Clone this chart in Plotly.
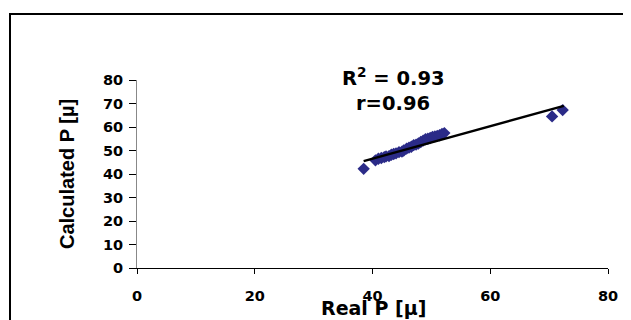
import plotly.graph_objects as go

real_p = [38.5, 40.5, 41.0, 41.5, 42.0, 42.3, 42.8, 43.2, 43.6, 44.0, 44.5, 45.0, 45.3,
          45.8, 46.2, 46.6, 47.0, 47.4, 47.8, 48.2, 48.6, 49.0, 49.4, 49.8, 50.2,
          50.6, 51.0, 51.4, 51.8, 52.2, 70.5, 72.3]
calc_p = [42.2, 45.8, 46.5, 46.8, 47.2, 47.5, 47.6, 48.2, 48.5, 48.8, 49.3, 49.5, 50.0,
          50.8, 51.2, 51.6, 52.3, 52.5, 53.0, 53.6, 54.2, 54.8, 55.0, 55.3, 55.8,
          56.0, 56.2, 56.5, 57.0, 57.4, 64.5, 67.2]
trend_x = [38.5, 72.5]
trend_y = [45.5, 69.0]
x_ticks = [0, 20, 40, 60, 80]
y_ticks = [0, 10, 20, 30, 40, 50, 60, 70, 80]

O = 8  # page body offset
W, H = 631 - O, 320 - O
L, R, T, B = 137 - O, 23, 80 - O, 52
pw, ph = W - L - R, H - T - B

def px(x):
    return (x - O - L) / pw

def py(y):
    return (T + ph - (y - O)) / ph

wide = "DejaVu Sans, Verdana, sans-serif"
arial = "Liberation Sans, Arial, sans-serif"

fig = go.Figure()
fig.add_trace(go.Scatter(x=real_p, y=calc_p, mode="markers",
                         marker=dict(symbol="diamond", size=9.5, color="#2B2B88"),
                         showlegend=False, cliponaxis=False))
fig.add_trace(go.Scatter(x=trend_x, y=trend_y, mode="lines",
                         line=dict(color="black", width=2.5), showlegend=False))

fig.update_layout(
    width=W, height=H, margin=dict(l=L, r=R, t=T, b=B),
    paper_bgcolor="white", plot_bgcolor="white",
    font=dict(family=wide, color="black"),
    xaxis=dict(range=[0, 80], tickvals=x_ticks, showgrid=False, zeroline=False,
               showline=True, linecolor="black", linewidth=1,
               ticks="outside", ticklen=5, tickcolor="black",
               ticklabelstandoff=10,
               tickfont=dict(size=14.5, family=wide, weight="bold")),
    yaxis=dict(range=[0, 80], tickvals=y_ticks, showgrid=False, zeroline=False,
               showline=True, linecolor="#888888", linewidth=1,
               ticks="outside", ticklen=7, tickcolor="black",
               ticklabelstandoff=3,
               tickfont=dict(size=14.5, family=wide, weight="bold")),
)

# outer chart frame
fig.add_shape(type="rect", xref="paper", yref="paper",
              x0=px(10), x1=px(629), y0=py(345), y1=py(14),
              line=dict(color="black", width=2), fillcolor="rgba(0,0,0,0)", layer="below")

# axis titles
fig.add_annotation(xref="paper", yref="paper", x=px(373), y=py(308),
                   text="<b>Real P [µ]</b>", showarrow=False,
                   font=dict(size=19, family=wide), xanchor="center", yanchor="middle")
fig.add_annotation(xref="paper", yref="paper", x=px(67), y=py(174),
                   text="<b>Calculated P [µ]</b>", showarrow=False, textangle=-90,
                   font=dict(size=20, family=arial), xanchor="center", yanchor="middle")

# statistics
fig.add_annotation(xref="paper", yref="paper", x=px(393), y=py(77),
                   text="<b>R<sup>2</sup> = 0.93</b>", showarrow=False,
                   font=dict(size=19.5, family=wide), xanchor="center", yanchor="middle")
fig.add_annotation(xref="paper", yref="paper", x=px(393), y=py(103),
                   text="<b>r=0.96</b>", showarrow=False,
                   font=dict(size=19.5, family=wide), xanchor="center", yanchor="middle")

fig.write_html("out.html")
